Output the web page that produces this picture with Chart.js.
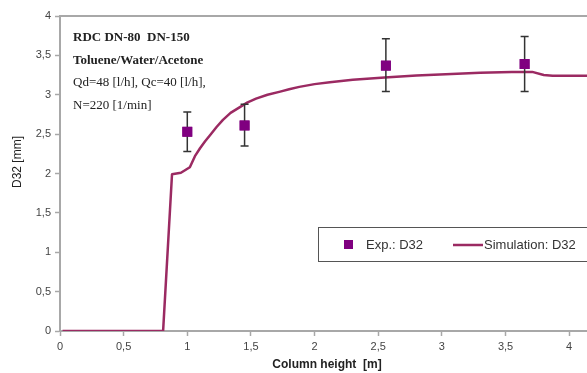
<!DOCTYPE html>
<html>
<head>
<meta charset="utf-8">
<script src="https://cdn.jsdelivr.net/npm/chart.js@4/dist/chart.umd.min.js"></script>
<style>
  html, body { margin: 0; padding: 0; background: #fff; }
  #d32_chart { display: block; }
</style>
</head>
<body>
<canvas id="d32_chart" width="587" height="373"></canvas>
<script>
// experimental drop sizes with error range
var exp_height = [1.0, 1.45, 2.56, 3.65];
var exp_d32 = [2.53, 2.61, 3.37, 3.39];
var exp_low = [2.28, 2.35, 3.04, 3.04];
var exp_high = [2.78, 2.88, 3.71, 3.74];

// simulated profile along the column
var sim_height = [0.02, 0.81, 0.88, 0.95, 1.02, 1.06, 1.10, 1.14, 1.18, 1.23, 1.28, 1.34, 1.41, 1.47, 1.54, 1.63, 1.73, 1.80, 1.88, 2.00, 2.12, 2.30, 2.55, 2.80, 3.03, 3.30, 3.55, 3.71, 3.80, 3.87, 4.14];
var sim_d32 = [0, 0, 1.99, 2.01, 2.08, 2.22, 2.32, 2.41, 2.49, 2.59, 2.68, 2.77, 2.84, 2.90, 2.95, 3.00, 3.04, 3.07, 3.10, 3.135, 3.16, 3.19, 3.22, 3.245, 3.26, 3.28, 3.29, 3.29, 3.25, 3.24, 3.24];

var x_ticks = [0, 0.5, 1, 1.5, 2, 2.5, 3, 3.5, 4];

var info_lines = ["RDC DN-80  DN-150", "Toluene/Water/Acetone", "Qd=48 [l/h], Qc=40 [l/h],", "N=220 [1/min]"];
var x_title = "Column height  [m]";
var y_title = "D32 [mm]";

var axis_color = "#a8a8a8";
var tick_font = { family: "'Liberation Sans', Arial, sans-serif", size: 11 };

var to_points = (xs, ys) => xs.map((x, i) => ({ x: x, y: ys[i] }));
var comma_label = (v) => String(v).replace(".", ",");

// error bars, frame line, notes, axis titles and the boxed legend
var extras_plugin = {
    id: "extras",
    beforeDatasetsDraw: (chart) => {
        var ctx = chart.ctx;
        var area = chart.chartArea;
        ctx.save();
        ctx.strokeStyle = axis_color;
        ctx.lineWidth = 2;
        ctx.beginPath();
        ctx.moveTo(area.left, area.top);
        ctx.lineTo(area.right, area.top);
        ctx.stroke();
        ctx.restore();
    },
    afterDatasetsDraw: (chart) => {
        var ctx = chart.ctx;
        var xs = chart.scales.x;
        var ys = chart.scales.y;
        ctx.save();
        ctx.strokeStyle = "#333";
        ctx.lineWidth = 1.5;
        exp_height.forEach((h, i) => {
            var px = xs.getPixelForValue(h);
            var top = ys.getPixelForValue(exp_high[i]);
            var bot = ys.getPixelForValue(exp_low[i]);
            ctx.beginPath();
            ctx.moveTo(px, top);
            ctx.lineTo(px, bot);
            ctx.moveTo(px - 4, top);
            ctx.lineTo(px + 4, top);
            ctx.moveTo(px - 4, bot);
            ctx.lineTo(px + 4, bot);
            ctx.stroke();
        });
        // redraw markers over the bars
        chart.getDatasetMeta(0).data.forEach(el => el.draw(ctx));
        ctx.restore();
    },
    afterDraw: (chart) => {
        var ctx = chart.ctx;
        ctx.save();

        // notes block
        ctx.fillStyle = "#222";
        ctx.textBaseline = "alphabetic";
        info_lines.forEach((line, i) => {
            var weight = i < 2 ? "bold " : "";
            ctx.font = weight + "13px 'Liberation Serif', 'Times New Roman', serif";
            ctx.fillText(line, 73, 41 + i * 22.5);
        });

        // axis titles
        ctx.fillStyle = "#222";
        ctx.font = "bold 12px 'Liberation Sans', Arial, sans-serif";
        ctx.textAlign = "center";
        ctx.textBaseline = "middle";
        ctx.fillText(x_title, 327, 365);
        ctx.save();
        ctx.translate(18, 162);
        ctx.rotate(-Math.PI / 2);
        ctx.font = "12px 'Liberation Sans', Arial, sans-serif";
        ctx.fillText(y_title, 0, 0);
        ctx.restore();

        // legend box
        var exp_ds = chart.data.datasets[0];
        var sim_ds = chart.data.datasets[1];
        ctx.fillStyle = "#fff";
        ctx.fillRect(318.5, 227.5, 300, 34);
        ctx.strokeStyle = "#555";
        ctx.lineWidth = 1;
        ctx.strokeRect(318.5, 227.5, 300, 34);
        ctx.fillStyle = exp_ds.backgroundColor;
        ctx.fillRect(344, 240, 9, 9);
        ctx.strokeStyle = sim_ds.borderColor;
        ctx.lineWidth = 2.5;
        ctx.beginPath();
        ctx.moveTo(453, 245);
        ctx.lineTo(483, 245);
        ctx.stroke();
        ctx.fillStyle = "#333";
        ctx.font = "13px 'Liberation Sans', Arial, sans-serif";
        ctx.textAlign = "left";
        ctx.fillText(exp_ds.label, 366, 245);
        ctx.fillText(sim_ds.label, 484, 245);
        ctx.restore();
    }
};

var create_chart = (canva) => {
    var config = {
        type: "scatter",
        data: {
            datasets: [{
                label: "Exp.: D32",
                data: to_points(exp_height, exp_d32),
                pointStyle: "rect",
                pointRadius: 7,
                pointHoverRadius: 7,
                backgroundColor: "#800080",
                borderColor: "#800080",
                borderWidth: 0,
                order: 0
            }, {
                label: "Simulation: D32",
                data: to_points(sim_height, sim_d32),
                showLine: true,
                pointRadius: 0,
                borderColor: "#9b2a62",
                borderWidth: 2.5,
                borderJoinStyle: "round",
                tension: 0,
                order: 1
            }]
        },
        options: {
            responsive: false,
            animation: false,
            layout: { padding: { top: 16, right: 0, left: 0, bottom: 0 }, autoPadding: false },
            plugins: {
                legend: { display: false },
                tooltip: { enabled: false }
            },
            scales: {
                x: {
                    type: "linear",
                    min: 0,
                    max: 4.14,
                    afterBuildTicks: (scale) => { scale.ticks = x_ticks.map(v => ({ value: v })); },
                    afterFit: (scale) => { scale.height = 42; },
                    border: { color: axis_color, width: 2 },
                    grid: { drawOnChartArea: false, color: axis_color, tickLength: 5, tickWidth: 1.5 },
                    ticks: { color: "#444", font: tick_font, padding: 4, maxRotation: 0, callback: comma_label }
                },
                y: {
                    min: 0,
                    max: 4,
                    afterFit: (scale) => { scale.width = 60; },
                    border: { color: axis_color, width: 2 },
                    grid: { drawOnChartArea: false, color: axis_color, tickLength: 5, tickWidth: 1.5 },
                    ticks: { stepSize: 0.5, color: "#444", font: tick_font, padding: 4, callback: comma_label }
                }
            }
        },
        plugins: [extras_plugin]
    };
    return new Chart(canva, config);
};

create_chart(document.getElementById("d32_chart"));
</script>
</body>
</html>
